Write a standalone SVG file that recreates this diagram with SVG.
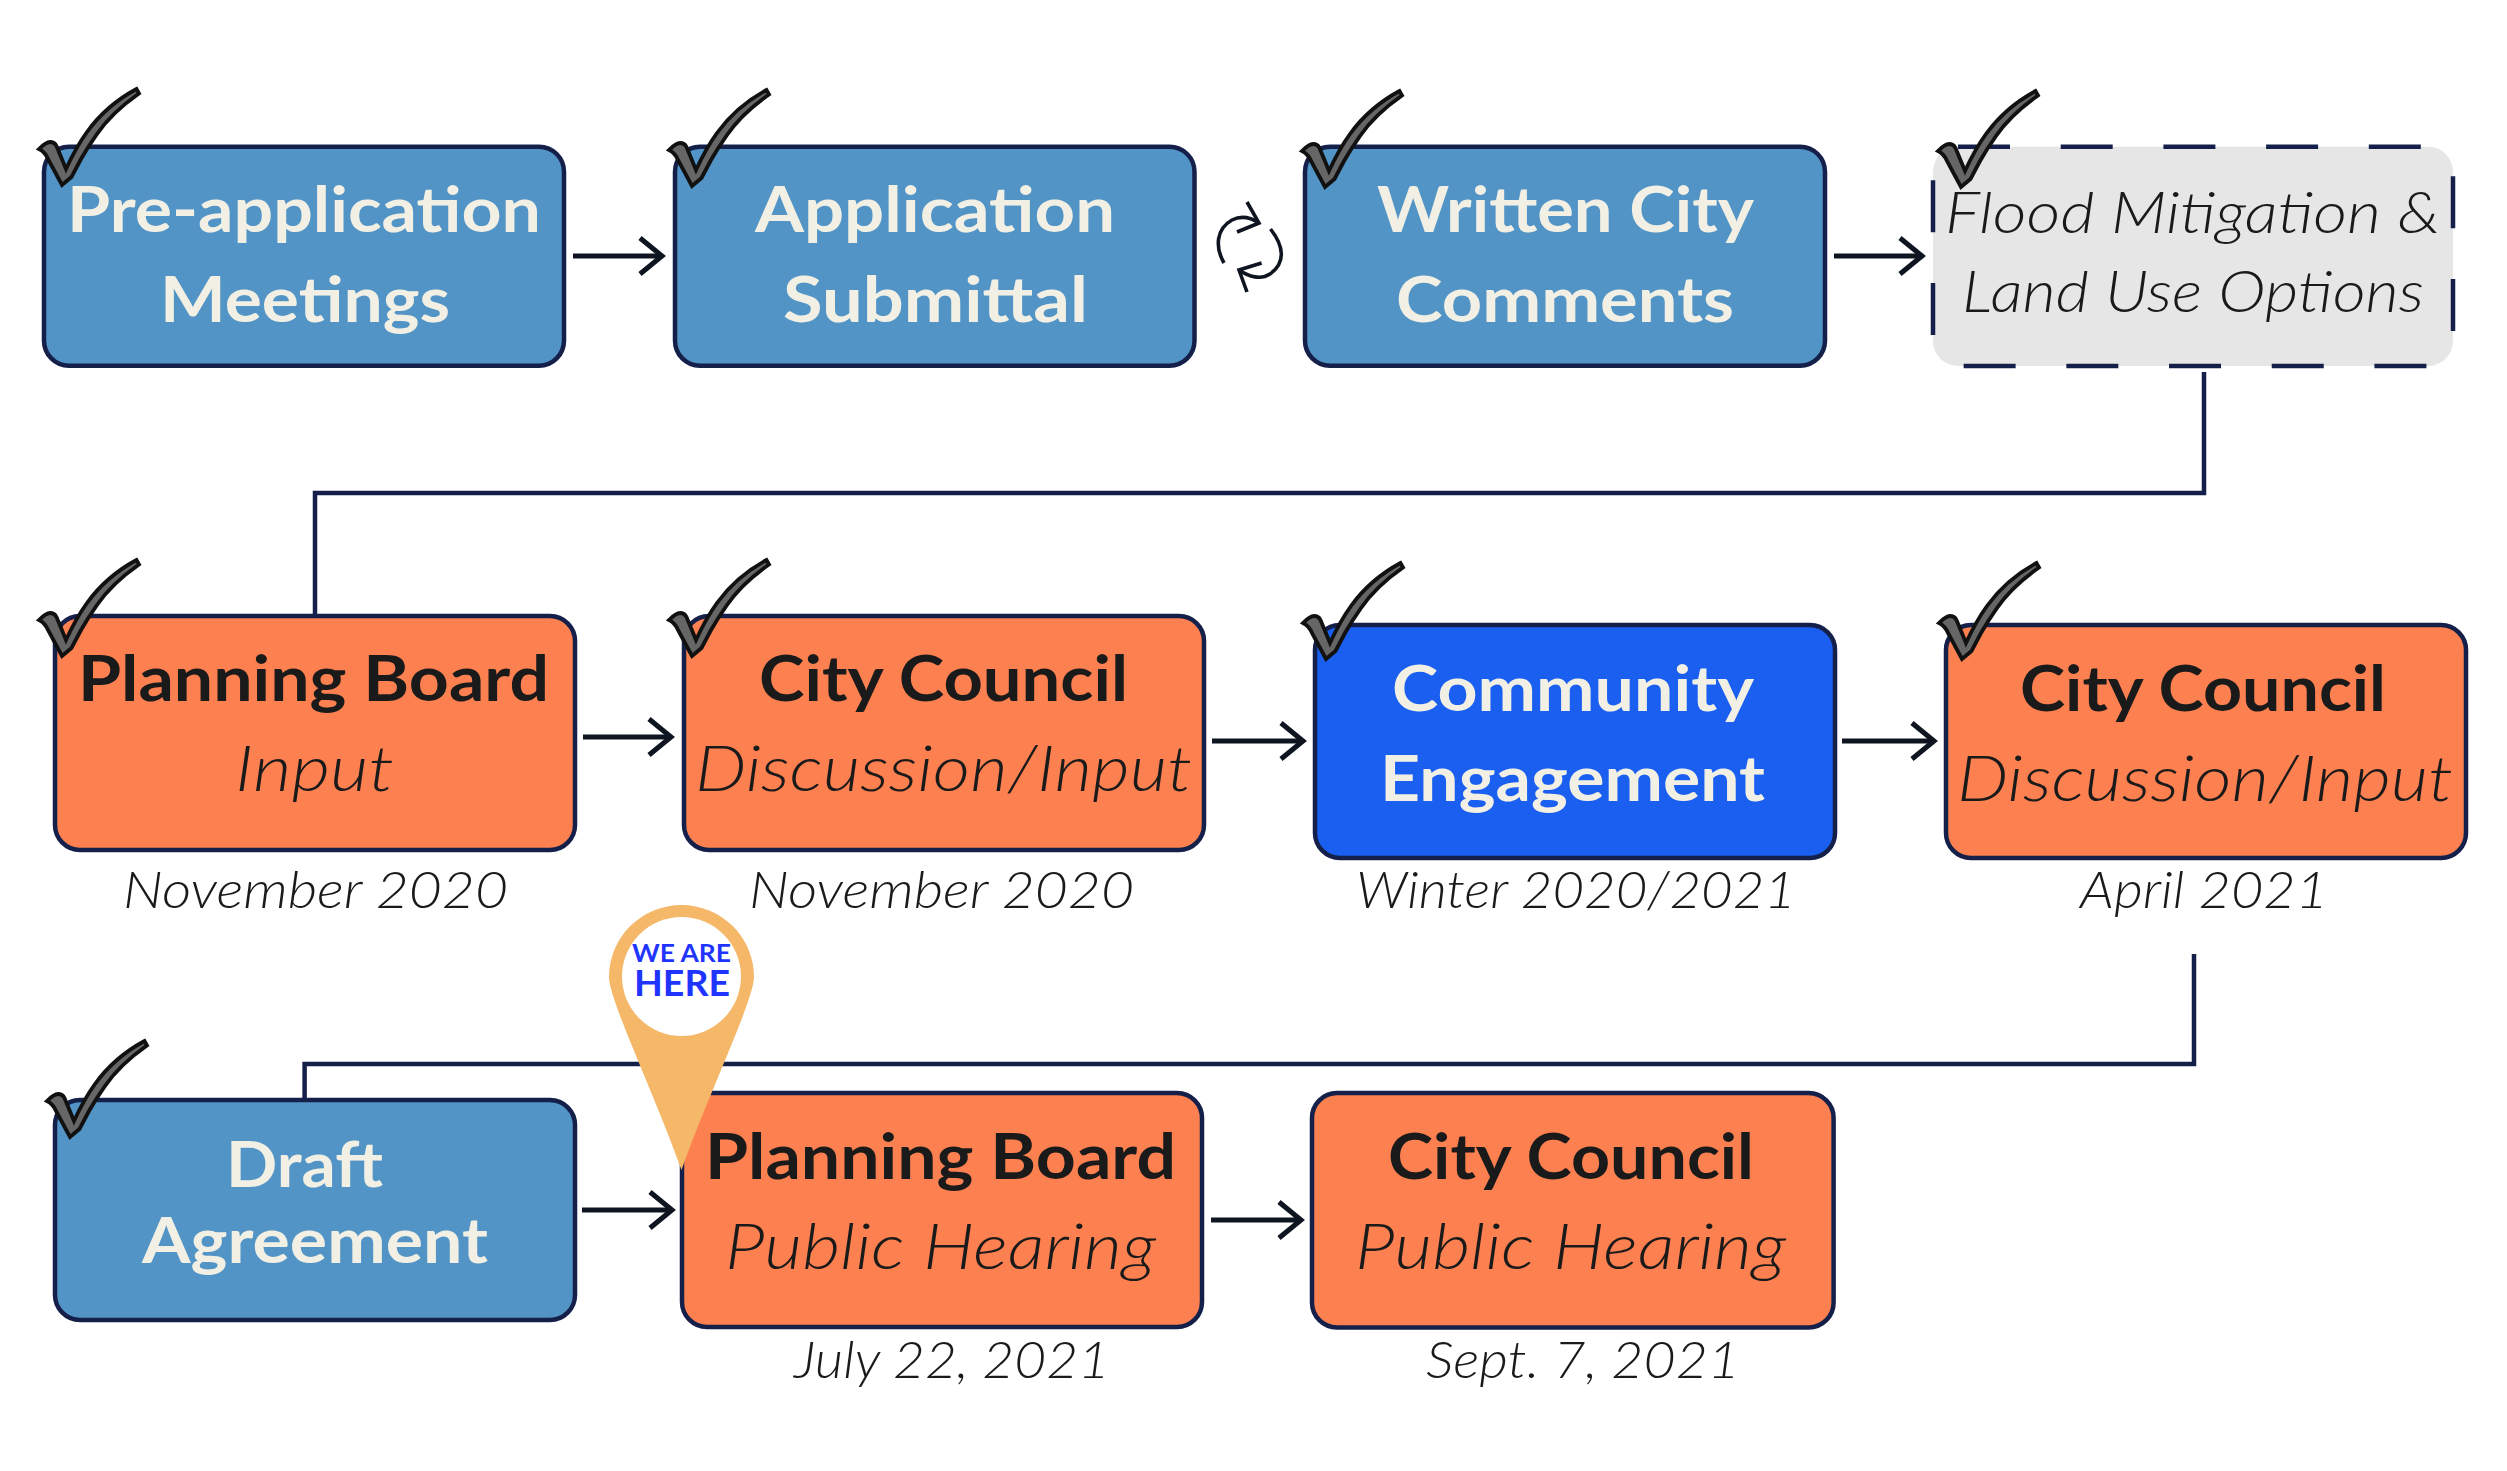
<svg xmlns="http://www.w3.org/2000/svg" width="2507" height="1471" viewBox="0 0 2507 1471">
<style>
.box{stroke:#14204a;stroke-width:4.5}
.blue{fill:#5294c6}.orange{fill:#fd8050}.bright{fill:#1a5fef}
.dash{fill:#e6e6e6;stroke:#14204a;stroke-width:4.5;stroke-dasharray:52 50.7}
text{font-family:Lato,"Liberation Sans",sans-serif}
.h{font-size:63px;font-weight:700}
.cream{fill:#f2f0e4}.dark{fill:#1a1a1a}
.i{font-size:63px;font-weight:300;font-style:italic;fill:#1a1a1a}
.f{font-size:57px;font-weight:300;font-style:italic;fill:#1a1a1a}
.d{font-size:52px;font-weight:300;font-style:italic;fill:#1a1a1a}
.arrow{fill:none;stroke:#0f1520;stroke-width:5;marker-end:url(#head)}
.link{fill:none;stroke:#14204a;stroke-width:4.5}
.loop{fill:none;stroke:#0f1520;stroke-width:3.6}
.pinlabel{font-weight:700;fill:#1f35ff}
</style>
<defs>
<marker id="head" markerUnits="userSpaceOnUse" markerWidth="60" markerHeight="60" refX="30" refY="30" orient="auto" overflow="visible">
<path d="M8,12 L30,30 L8,48" fill="none" stroke="#0f1520" stroke-width="5"/>
</marker>
<path id="check" d="M39,149 C43,145 47,142 50,142 C54,142 55.5,144 56.5,146 L66,169 C72,156 79,143 87,132 C100,114 118,99 136.5,89 L139,93.5 C124,104 108,118 97,134 C90,144 85,152 81,159 L71.5,177 L62,185 L48,159 C46,154 43,151 39,149 Z" fill="#666" stroke="#111" stroke-width="3.8"/>
</defs>

<g id="connectors">
<path class="link" d="M2204,372 V493 H315 V616"/>
<path class="link" d="M2194,954 V1064 H304.6 V1100"/>
<path class="arrow" d="M573,256 H662"/>
<path class="arrow" d="M1834,256 H1922"/>
<path class="arrow" d="M583,737 H671"/>
<path class="arrow" d="M1212,741 H1303"/>
<path class="arrow" d="M1842,741 H1934"/>
<path class="arrow" d="M582,1210 H672"/>
<path class="arrow" d="M1211,1220 H1301"/>
<g id="loop">
<path class="loop" d="M1224,263 C1215,247 1216,229 1232,220 C1240,216 1250,217 1259,223"/>
<path class="loop" d="M1247,202 L1259,223 L1237,232"/>
<path class="loop" d="M1270.5,229 C1284,246 1286,263 1270,274 C1261,280 1249,277 1239,270"/>
<path class="loop" d="M1261.6,263 L1239,270 L1247,292"/>
</g>
</g>

<g id="node-pre-application">
<rect class="box blue" x="44" y="146.7" width="520" height="219" rx="25"/>
<text class="h cream" x="67" y="232" textLength="474" lengthAdjust="spacingAndGlyphs">Pre-application</text>
<text class="h cream" x="160" y="322" textLength="290" lengthAdjust="spacingAndGlyphs">Meetings</text>
<use href="#check"/>
</g>
<g id="node-application">
<rect class="box blue" x="675" y="146.7" width="519.5" height="219" rx="25"/>
<text class="h cream" x="755" y="232" textLength="360" lengthAdjust="spacingAndGlyphs">Application</text>
<text class="h cream" x="783" y="322" textLength="305" lengthAdjust="spacingAndGlyphs">Submittal</text>
<use href="#check" x="630" y="1"/>
</g>
<g id="node-written">
<rect class="box blue" x="1305" y="146.7" width="520" height="219" rx="25"/>
<text class="h cream" x="1377" y="232" textLength="377" lengthAdjust="spacingAndGlyphs">Written City</text>
<text class="h cream" x="1396" y="322" textLength="338" lengthAdjust="spacingAndGlyphs">Comments</text>
<use href="#check" x="1263" y="2"/>
</g>
<g id="node-flood">
<rect class="dash" x="1933" y="146.7" width="520" height="219.3" rx="25"/>
<text class="f" x="1945" y="233" textLength="495" lengthAdjust="spacingAndGlyphs">Flood Mitigation &amp;</text>
<text class="f" x="1962" y="312" textLength="462" lengthAdjust="spacingAndGlyphs">Land Use Options</text>
<use href="#check" x="1899" y="2"/>
</g>

<g id="node-pb-input">
<rect class="box orange" x="55" y="616" width="520" height="234" rx="25"/>
<text class="h dark" x="78" y="701" textLength="471" lengthAdjust="spacingAndGlyphs">Planning Board</text>
<text class="i" x="235" y="791" textLength="159" lengthAdjust="spacingAndGlyphs">Input</text>
<text class="d" x="123" y="908" textLength="385" lengthAdjust="spacingAndGlyphs">November 2020</text>
<use href="#check" y="471"/>
</g>
<g id="node-cc-input-1">
<rect class="box orange" x="684" y="616" width="520" height="234" rx="25"/>
<text class="h dark" x="759" y="701" textLength="369" lengthAdjust="spacingAndGlyphs">City Council</text>
<text class="i" x="695" y="791" textLength="497" lengthAdjust="spacingAndGlyphs">Discussion/Input</text>
<text class="d" x="749" y="908" textLength="385" lengthAdjust="spacingAndGlyphs">November 2020</text>
<use href="#check" x="630" y="471"/>
</g>
<g id="node-community">
<rect class="box bright" x="1315" y="625" width="520" height="233" rx="25"/>
<text class="h cream" x="1392" y="711" textLength="362" lengthAdjust="spacingAndGlyphs">Community</text>
<text class="h cream" x="1380" y="801" textLength="385" lengthAdjust="spacingAndGlyphs">Engagement</text>
<text class="d" x="1356" y="908" textLength="440" lengthAdjust="spacingAndGlyphs">Winter 2020/2021</text>
<use href="#check" x="1264" y="474"/>
</g>
<g id="node-cc-input-2">
<rect class="box orange" x="1946" y="625" width="520" height="233" rx="25"/>
<text class="h dark" x="2020" y="711" textLength="366" lengthAdjust="spacingAndGlyphs">City Council</text>
<text class="i" x="1957" y="801" textLength="496" lengthAdjust="spacingAndGlyphs">Discussion/Input</text>
<text class="d" x="2080" y="908" textLength="248" lengthAdjust="spacingAndGlyphs">April 2021</text>
<use href="#check" x="1900" y="474"/>
</g>

<g id="node-draft">
<rect class="box blue" x="55" y="1100" width="520" height="220" rx="25"/>
<text class="h cream" x="226" y="1187" textLength="157" lengthAdjust="spacingAndGlyphs">Draft</text>
<text class="h cream" x="142" y="1263" textLength="346" lengthAdjust="spacingAndGlyphs">Agreement</text>
<use href="#check" x="8" y="952"/>
</g>
<g id="node-pb-hearing">
<rect class="box orange" x="682" y="1093" width="520" height="234" rx="25"/>
<text class="h dark" x="705" y="1179" textLength="471" lengthAdjust="spacingAndGlyphs">Planning Board</text>
<text class="i" x="725" y="1269" textLength="431" lengthAdjust="spacingAndGlyphs">Public Hearing</text>
<text class="d" x="794" y="1378" textLength="316" lengthAdjust="spacingAndGlyphs">July 22, 2021</text>
</g>
<g id="node-cc-hearing">
<rect class="box orange" x="1312" y="1093" width="521.6" height="234.5" rx="25"/>
<text class="h dark" x="1388" y="1179" textLength="366" lengthAdjust="spacingAndGlyphs">City Council</text>
<text class="i" x="1355" y="1269" textLength="431" lengthAdjust="spacingAndGlyphs">Public Hearing</text>
<text class="d" x="1426" y="1378" textLength="314" lengthAdjust="spacingAndGlyphs">Sept. 7, 2021</text>
</g>

<g id="we-are-here">
<path d="M681.5,1170 C655,1095 609,1000 609,977 A72.5,72 0 0 1 754,977 C754,1000 708,1095 681.5,1170 Z" fill="#f5b768"/>
<circle cx="681.5" cy="976.5" r="59.5" fill="#fff"/>
<text class="pinlabel" x="632" y="962" font-size="24" textLength="99" lengthAdjust="spacingAndGlyphs">WE ARE</text>
<text class="pinlabel" x="634" y="996" font-size="36" textLength="96" lengthAdjust="spacingAndGlyphs">HERE</text>
</g>
</svg>
